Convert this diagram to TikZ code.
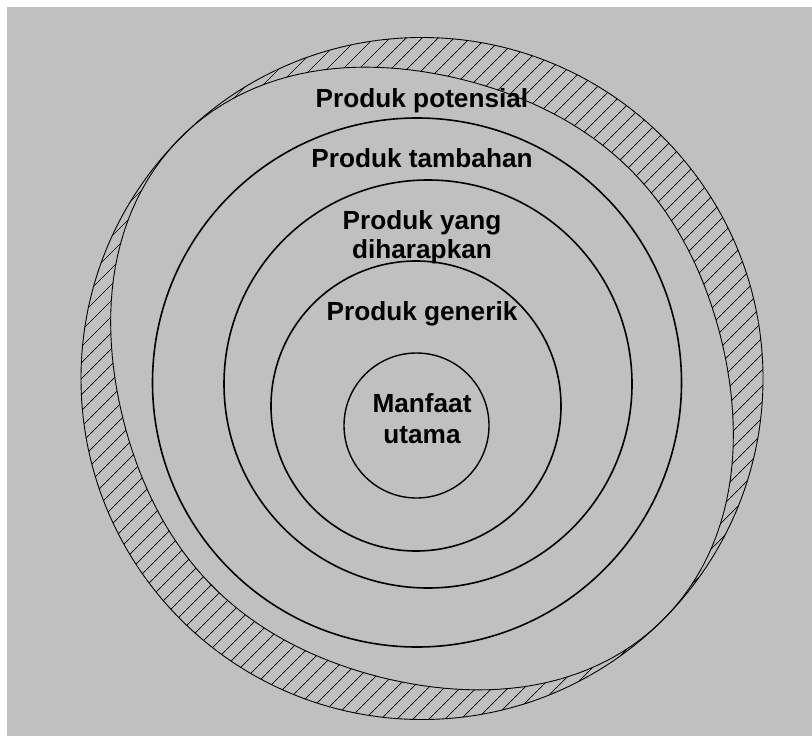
\documentclass[tikz,border=0pt]{standalone}
\usepackage{fontspec}
\setmainfont{Liberation Sans}
\definecolor{panel}{HTML}{C0C0C0}
\tikzset{
  declare function={gap(\t)=28.5+23*cos(2*(\t-45))-5.5*cos(4*(\t-45));
                    bx(\t)=422+(341-gap(\t))*cos(\t);
                    by(\t)=378.5-(341-gap(\t))*sin(\t);},
  ring/.style={draw=black, line width=1.6bp},
  thinring/.style={draw=black, line width=0.9bp},
  hatchline/.style={draw=black, line width=0.7bp},
  lbl/.style={font=\fontsize{26.3}{29}\selectfont\bfseries, inner sep=0pt, align=center, anchor=base},
}
\begin{document}
\begin{tikzpicture}[x=1bp, y=-1bp]
  \useasboundingbox (0,0) rectangle (812,736);
  \fill[white] (0,0) rectangle (812,736);
  \fill[panel] (7,7) rectangle (812,736);

  % hatched band: potential product
  \begin{scope}[even odd rule]
    \clip (422,378.5) circle[radius=341bp]
          ({bx(0)},{by(0)}) \foreach \t in {2,4,...,358} { -- ({bx(\t)},{by(\t)}) } -- cycle;
    \foreach \c in {300,316,...,1316}
      \draw[hatchline] (\c-800,800) -- (\c,0);
  \end{scope}
  \draw[thinring] (422,378.5) circle[radius=341bp];
  \draw[thinring, line join=round]
    ({bx(0)},{by(0)}) \foreach \t in {2,4,...,358} { -- ({bx(\t)},{by(\t)}) } -- cycle;

  % nested levels
  \draw[ring] (417,382.5) circle[radius=264.5bp];
  \draw[ring] (428,384) circle[radius=204bp];
  \draw[ring] (416,406) circle[radius=145bp];
  \draw[ring, line width=1.4bp] (416.5,425.5) circle[radius=72.5bp];

  % labels (two-line labels are placed by the baseline of their last line)
  \node[lbl] (potensial) at (422,107) {Produk potensial};
  \node[lbl] (tambahan)  at (422,167) {Produk tambahan};
  \node[lbl] (harapan)   at (422,258) {Produk yang\\diharapkan};
  \node[lbl] (generik)   at (422,320) {Produk generik};
  \node[lbl, font=\fontsize{26.3}{31}\selectfont\bfseries] (utama) at (422,443) {Manfaat\\utama};
\end{tikzpicture}
\end{document}
